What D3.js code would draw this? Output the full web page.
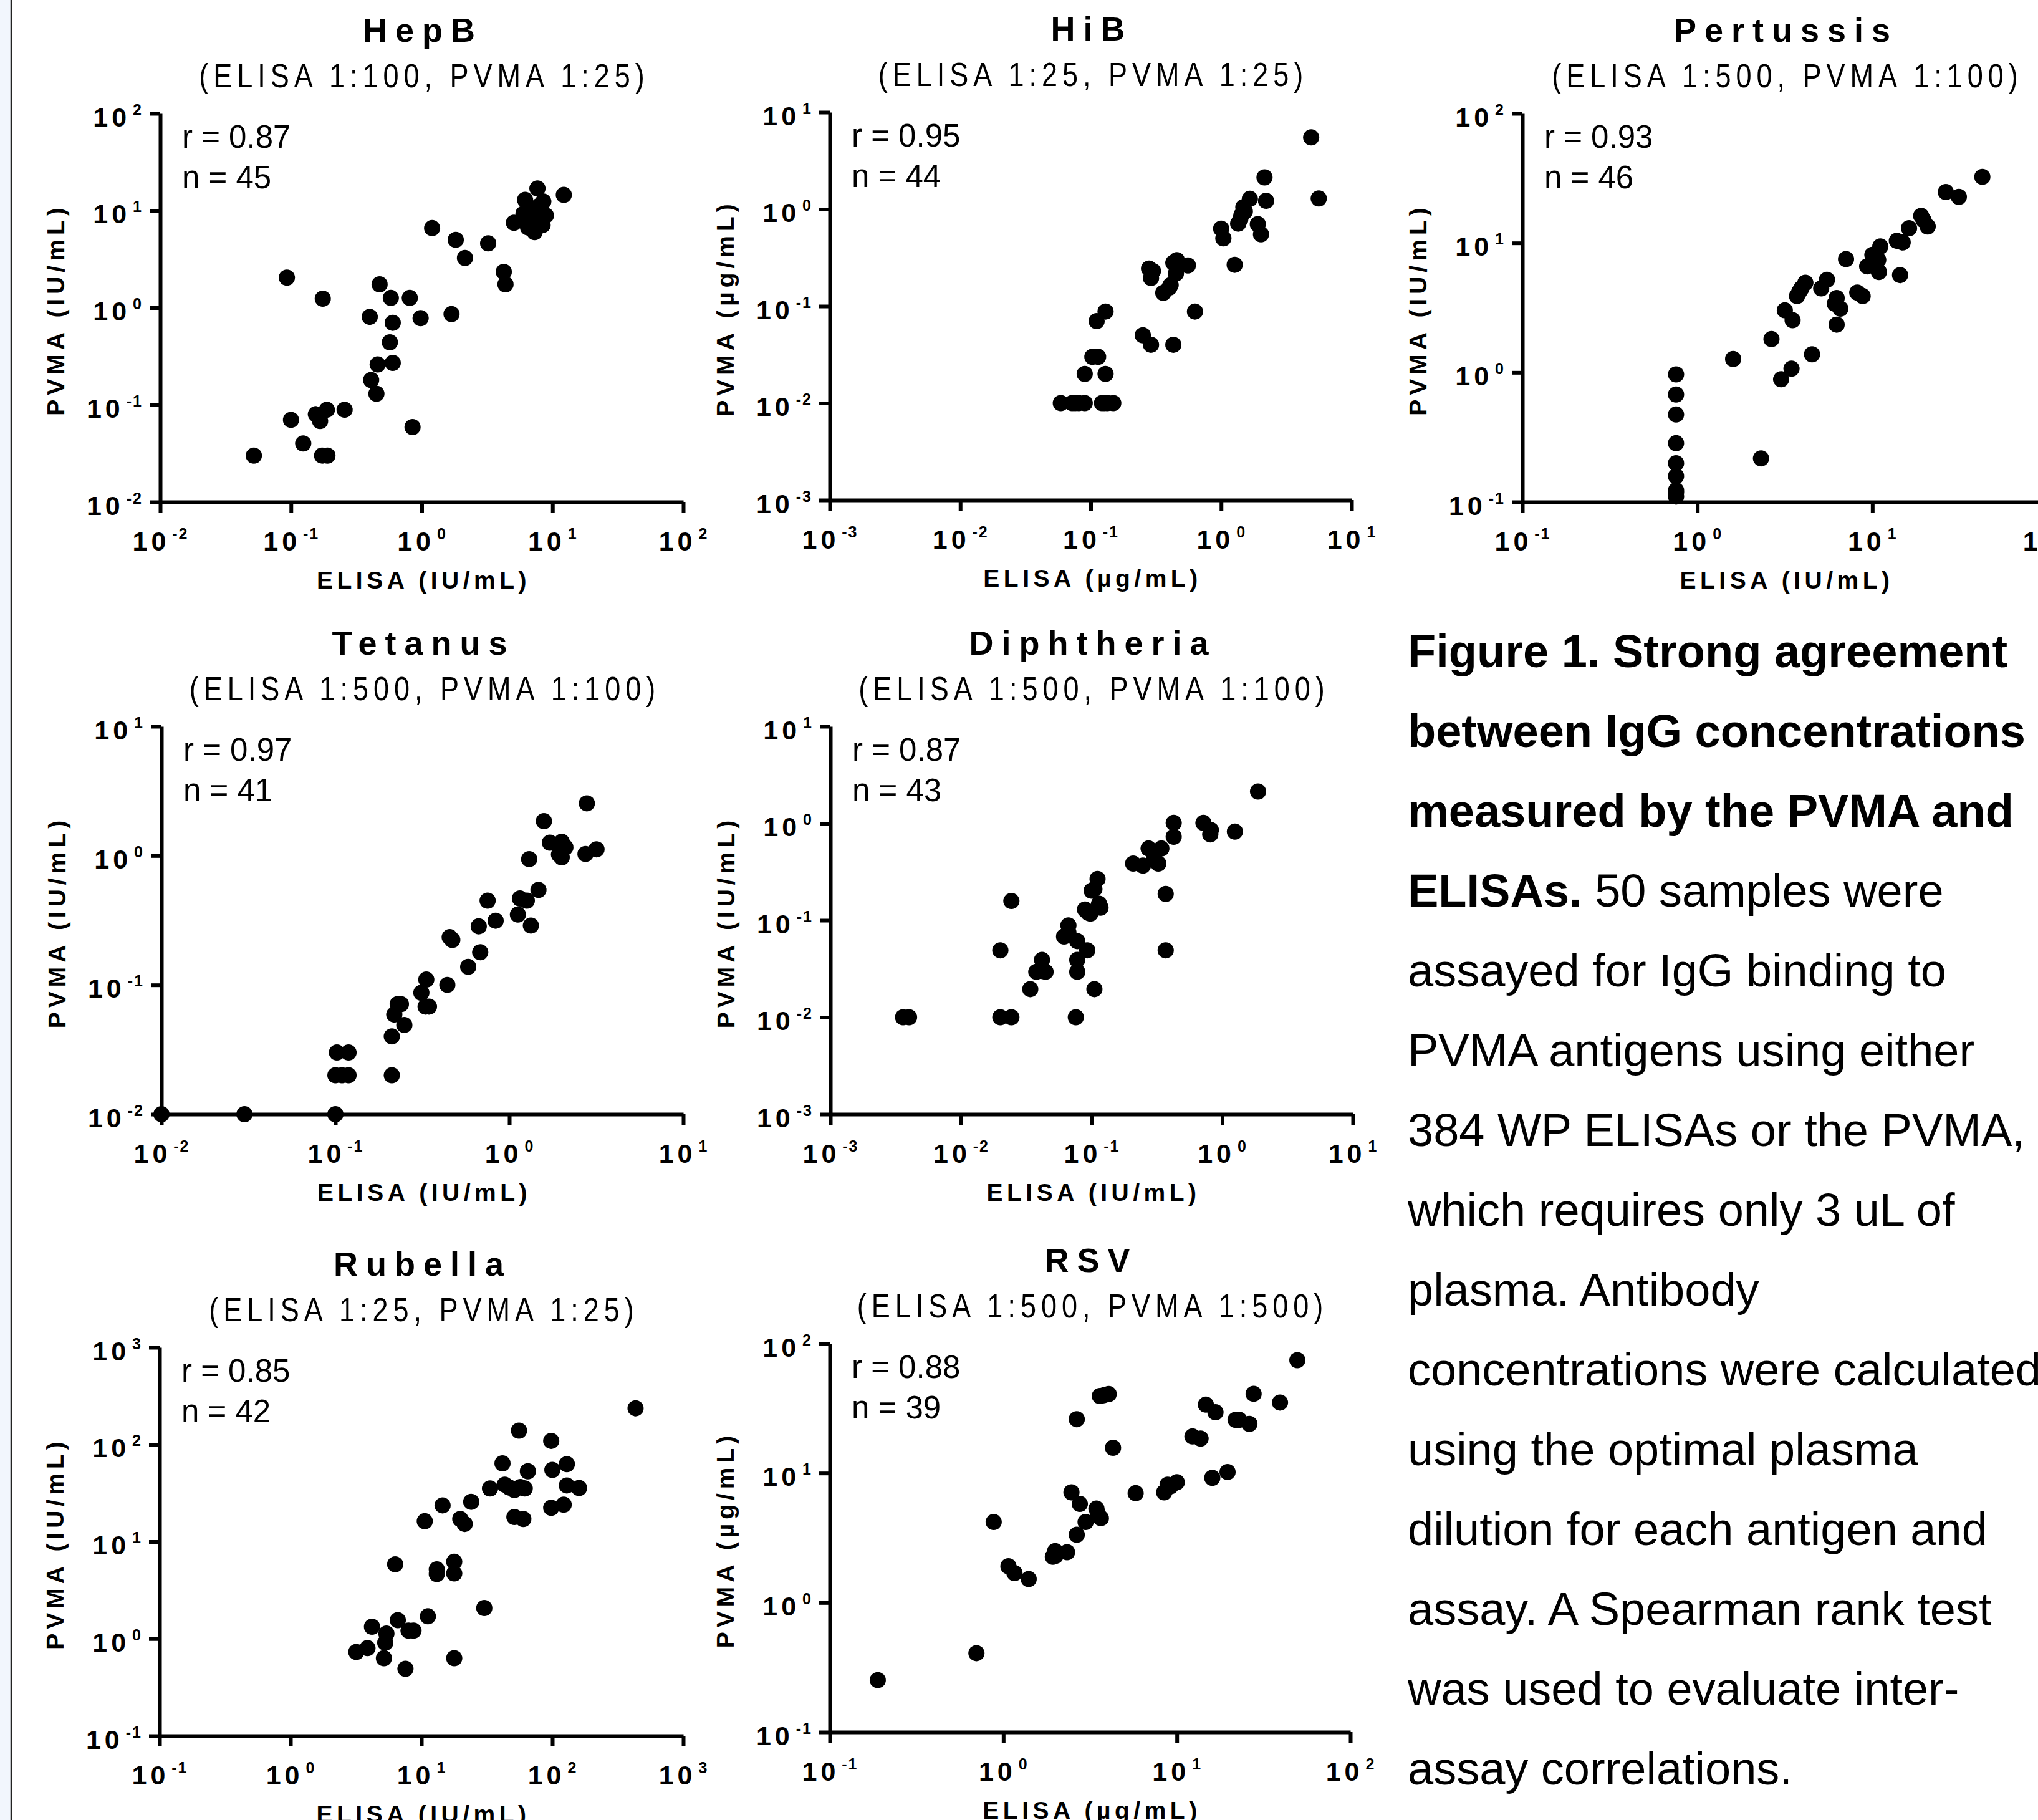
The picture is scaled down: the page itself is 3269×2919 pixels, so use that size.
<!DOCTYPE html>
<html>
<head>
<meta charset="utf-8">
<script src="https://cdn.jsdelivr.net/npm/d3@7"></script>
<style>
  body { margin: 0; background: #fff; }
  svg { display: block; font-family: "Liberation Sans", Arial, sans-serif; }
</style>
</head>
<body>
<div id="chart"></div>
<script>
// panel texts
const panelNames = ["HepB", "HiB", "Pertussis", "Tetanus", "Diphtheria", "Rubella", "RSV"];
const dilutions = [
  "(ELISA 1:100, PVMA 1:25)", "(ELISA 1:25, PVMA 1:25)", "(ELISA 1:500, PVMA 1:100)",
  "(ELISA 1:500, PVMA 1:100)", "(ELISA 1:500, PVMA 1:100)", "(ELISA 1:25, PVMA 1:25)",
  "(ELISA 1:500, PVMA 1:500)"
];
const rValues = ["0.87", "0.95", "0.93", "0.97", "0.87", "0.85", "0.88"];
const nValues = [45, 44, 46, 41, 43, 42, 39];
const units = ["IU/mL", "µg/mL", "IU/mL", "IU/mL", "IU/mL", "IU/mL", "µg/mL"];
const xExtents = [[1e-2, 1e2], [1e-3, 1e1], [1e-1, 1e2], [1e-2, 1e1], [1e-3, 1e1], [1e-1, 1e3], [1e-1, 1e2]];
const yExtents = [[1e-2, 1e2], [1e-3, 1e1], [1e-1, 1e2], [1e-2, 1e1], [1e-3, 1e1], [1e-1, 1e3], [1e-1, 1e2]];

// [ELISA, PVMA] pairs
const hepbPoints = [[0.052,0.030],[0.093,2.04],[0.175,1.24],[0.10,0.070],[0.124,0.040],[0.155,0.080],
  [0.167,0.068],[0.188,0.089],[0.173,0.030],[0.19,0.030],[0.257,0.089],[0.40,0.805],[0.476,1.74],
  [0.58,1.26],[0.81,1.26],[0.60,0.70],[0.57,0.44],[0.46,0.26],[0.60,0.27],[0.41,0.18],[0.45,0.13],
  [0.85,0.059],[0.98,0.78],[1.69,0.86],[1.20,6.6],[1.82,5.0],[2.14,3.25],[3.22,4.6],[4.24,2.34],
  [4.37,1.74],[5.07,7.5],[6.17,12.9],[7.67,16.9],[8.5,12.4],[6.0,9.3],[6.5,6.7],[7.3,6.0],[8.9,8.9],
  [8.4,7.1],[7.1,9.3],[12.2,14.5],[6.7,7.9],[7.9,11.2],[7.5,8.3],[6.6,10.2]];
const hibPoints = [[0.059,0.01],[0.072,0.01],[0.081,0.01],[0.090,0.01],[0.122,0.01],[0.135,0.01],
  [0.149,0.01],[0.076,0.01],[0.128,0.01],[0.090,0.020],[0.13,0.020],[0.103,0.030],[0.114,0.030],
  [0.111,0.070],[0.130,0.088],[0.251,0.050],[0.29,0.040],[0.43,0.040],[0.63,0.088],[0.28,0.244],
  [0.29,0.195],[0.36,0.137],[0.40,0.155],[0.41,0.165],[0.45,0.217],[0.457,0.298],[0.556,0.263],
  [0.30,0.23],[0.43,0.28],[1.0,0.63],[1.04,0.50],[1.27,0.267],[1.35,0.71],[1.43,0.87],[1.48,1.05],
  [1.66,1.28],[1.91,0.70],[2.02,0.55],[2.15,2.13],[2.21,1.22],[4.9,5.5],[5.6,1.29],[1.40,0.78],[1.52,0.95]];
const pertussisPoints = [[0.755,0.966],[0.755,0.675],[0.755,0.473],[0.755,0.284],[0.755,0.199],
  [0.755,0.158],[0.755,0.123],[0.755,0.110],[0.755,0.118],[1.6,1.27],[2.31,0.217],[2.65,1.81],
  [3.01,0.885],[3.45,1.07],[4.52,1.38],[3.16,3.02],[3.5,2.53],[3.71,3.89],[3.93,4.46],[4.14,4.93],
  [3.82,4.2],[5.1,4.46],[5.5,5.2],[6.25,3.76],[6.1,3.4],[6.56,3.11],[6.25,2.34],[7.07,7.5],[8.2,4.14],
  [8.8,3.89],[9.34,6.6],[10,8.1],[10.3,7.0],[10.9,5.97],[11.1,9.4],[10.8,7.4],[13.8,10.4],[14.9,10.1],
  [14.4,5.65],[16.2,13.0],[19.0,16.2],[19.6,15.0],[20.7,13.4],[26.3,24.7],[31.2,22.7],[42.5,32.4]];
const tetanusPoints = [[0.01,0.01],[0.030,0.01],[0.1,0.01],[0.1,0.02],[0.109,0.02],[0.119,0.02],
  [0.102,0.03],[0.119,0.03],[0.211,0.02],[0.211,0.040],[0.218,0.059],[0.238,0.071],[0.228,0.071],
  [0.249,0.049],[0.312,0.087],[0.333,0.11],[0.33,0.068],[0.345,0.068],[0.44,0.1],[0.454,0.234],
  [0.47,0.223],[0.58,0.138],[0.667,0.284],[0.68,0.179],[0.75,0.449],[0.834,0.314],[1.12,0.35],
  [1.15,0.466],[1.26,0.449],[1.33,0.288],[1.3,0.94],[1.47,0.543],[1.58,1.85],[1.71,1.26],[2.0,1.28],
  [1.93,1.02],[2.0,0.97],[2.1,1.16],[2.79,2.54],[2.74,1.03],[3.17,1.12]];
const diphtheriaPoints = [[0.0036,0.01],[0.0040,0.01],[0.020,0.01],[0.0243,0.01],[0.0757,0.01],
  [0.020,0.049],[0.0243,0.158],[0.0339,0.0195],[0.0377,0.0294],[0.0417,0.039],[0.0444,0.0294],
  [0.0415,0.03],[0.0615,0.068],[0.0664,0.0886],[0.0664,0.075],[0.0776,0.061],[0.0776,0.039],
  [0.0776,0.0294],[0.0925,0.049],[0.089,0.129],[0.0977,0.117],[0.094,0.12],[0.105,0.0195],[0.1,0.202],
  [0.105,0.21],[0.111,0.267],[0.114,0.148],[0.117,0.135],[0.208,0.385],[0.247,0.367],[0.273,0.55],
  [0.30,0.45],[0.324,0.385],[0.342,0.55],[0.369,0.187],[0.369,0.049],[0.425,1.01],[0.425,0.728],
  [0.718,1.01],[0.818,0.853],[0.81,0.77],[1.25,0.822],[1.88,2.13]];
const rubellaPoints = [[3.18,0.73],[3.87,0.80],[4.19,1.33],[5.17,0.63],[5.29,0.91],[5.4,1.13],
  [6.6,1.55],[7.55,0.49],[7.97,1.21],[8.7,1.21],[6.3,5.84],[11.2,1.70],[13.1,5.17],[13.1,4.64],
  [17.8,6.2],[17.8,4.7],[17.8,0.63],[30.2,2.07],[10.6,16.2],[14.5,23.6],[19.8,17.1],[21.4,15.2],
  [24.0,25.7],[33.4,35.3],[41.6,64],[43.3,38.6],[47,36],[51.3,34],[51.3,17.9],[55.6,139],[57,36.5],
  [61.5,35.3],[60,17.1],[65,53],[98,109],[100,54.7],[98,22.3],[122,24.0],[129,62.8],[129,37.9],
  [160,35.6],[432,236]];
const rsvPoints = [[0.189,0.252],[0.70,0.407],[0.88,4.19],[1.07,1.91],[1.16,1.69],[1.40,1.52],
  [1.93,2.26],[1.99,2.5],[2.0,2.3],[2.33,2.45],[2.47,7.1],[2.65,26.1],[2.65,3.34],[2.76,5.78],
  [2.98,4.19],[3.44,5.32],[3.5,4.9],[3.65,4.49],[3.6,39.4],[3.8,40.0],[4.05,40.8],[4.29,15.7],
  [5.79,7.0],[8.45,7.1],[8.85,8.14],[9.2,7.9],[10,8.5],[12.3,19.2],[13.7,18.5],[14.7,33.8],[16.7,29.5],
  [16.0,9.2],[19.6,10.2],[21.8,25.8],[22.9,25.8],[26.2,24.0],[27.7,41.0],[39.3,35.1],[49.5,74.5]];
const panelPoints = [hepbPoints, hibPoints, pertussisPoints, tetanusPoints, diphtheriaPoints, rubellaPoints, rsvPoints];

// caption, one entry per line: [bold part, regular part]
const captionLines = [
  ["Figure 1. Strong agreement", ""],
  ["between IgG concentrations", ""],
  ["measured by the PVMA and", ""],
  ["ELISAs.", " 50 samples were"],
  ["", "assayed for IgG binding to"],
  ["", "PVMA antigens using either"],
  ["", "384 WP ELISAs or the PVMA,"],
  ["", "which requires only 3 uL of"],
  ["", "plasma. Antibody"],
  ["", "concentrations were calculated"],
  ["", "using the optimal plasma"],
  ["", "dilution for each antigen and"],
  ["", "assay. A Spearman rank test"],
  ["", "was used to evaluate inter-"],
  ["", "assay correlations."]
];

const width = 3269, height = 2919;

// plot frame of each panel (axis pixel extents)
const frames = [
  { x0: 257, x1: 1096, y0: 182, y1: 805 },
  { x0: 1331, x1: 2168, y0: 180, y1: 802 },
  { x0: 2442, x1: 3284, y0: 182, y1: 805 },
  { x0: 259, x1: 1096, y0: 1165, y1: 1787 },
  { x0: 1332, x1: 2170, y0: 1165, y1: 1787 },
  { x0: 256, x1: 1096, y0: 2161, y1: 2784 },
  { x0: 1331, x1: 2166, y0: 2155, y1: 2778 }
];

const svg = d3.select("#chart")
  .append("svg")
  .attr("width", width)
  .attr("height", height);

svg.append("rect").attr("width", width).attr("height", height).attr("fill", "#fff");

// left page edge
svg.append("rect").attr("width", 17).attr("height", height).attr("fill", "#f2f6fd");
svg.append("line")
  .attr("x1", 18).attr("x2", 18).attr("y1", 0).attr("y2", height)
  .attr("stroke", "#222").attr("stroke-width", 2.5);

function decades(ext) {
  const lo = Math.round(Math.log10(ext[0])), hi = Math.round(Math.log10(ext[1]));
  return d3.range(lo, hi + 1).map(e => Math.pow(10, e));
}

function powerLabel(textSel, d) {
  const e = Math.round(Math.log10(d));
  textSel.text(null);
  textSel.append("tspan").attr("letter-spacing", 6).text("10");
  textSel.append("tspan")
    .attr("font-size", 25)
    .attr("dx", 4)
    .attr("dy", -18)
    .attr("letter-spacing", 2)
    .text(String(e));
}

function styleAxis(g) {
  g.select(".domain").attr("stroke", "#000").attr("stroke-width", 6);
  g.selectAll(".tick line").attr("stroke", "#000").attr("stroke-width", 6);
  g.selectAll(".tick text")
    .attr("fill", "#000")
    .attr("font-size", 43)
    .attr("font-weight", "bold")
    .attr("font-family", "'Liberation Sans', Arial, sans-serif");
}

panelNames.forEach((name, i) => {
  const f = frames[i];
  const x = d3.scaleLog().domain(xExtents[i]).range([f.x0, f.x1]);
  const y = d3.scaleLog().domain(yExtents[i]).range([f.y1, f.y0]);
  const cx = (f.x0 + f.x1) / 2;
  const cy = (f.y0 + f.y1) / 2;
  const g = svg.append("g").attr("class", "panel");

  // titles
  g.append("text")
    .attr("x", cx + 2).attr("y", f.y0 - 115)
    .attr("text-anchor", "middle")
    .attr("font-size", 54).attr("font-weight", "bold")
    .attr("letter-spacing", 13)
    .text(name);
  // subtitle: a horizontally condensed face with wide tracking
  g.append("text")
    .attr("transform", `translate(${cx + 4},${f.y0 - 42}) scale(0.85,1)`)
    .attr("text-anchor", "middle")
    .attr("font-size", 53)
    .attr("letter-spacing", 9.4)
    .text(dilutions[i]);

  // axes
  const xAxis = g.append("g")
    .attr("transform", `translate(0,${f.y1})`)
    .call(d3.axisBottom(x).tickValues(decades(xExtents[i])).tickSize(17).tickSizeOuter(0));
  styleAxis(xAxis);
  xAxis.selectAll(".tick text")
    .attr("y", 78).attr("dy", null)
    .attr("text-anchor", "middle")
    .each(function(d) { powerLabel(d3.select(this), d); });

  const yAxis = g.append("g")
    .attr("transform", `translate(${f.x0},0)`)
    .call(d3.axisLeft(y).tickValues(decades(yExtents[i])).tickSize(17).tickSizeOuter(0));
  styleAxis(yAxis);
  yAxis.selectAll(".tick text")
    .attr("x", -28).attr("y", 20).attr("dy", null)
    .attr("text-anchor", "end")
    .each(function(d) { powerLabel(d3.select(this), d); });

  // axis titles
  g.append("text")
    .attr("x", cx + 3).attr("y", f.y1 + 139)
    .attr("text-anchor", "middle")
    .attr("font-size", 39).attr("font-weight", "bold")
    .attr("letter-spacing", 6.5)
    .text(`ELISA (${units[i]})`);
  g.append("text")
    .attr("transform", `translate(${f.x0 - 154},${cy + 3}) rotate(-90)`)
    .attr("text-anchor", "middle")
    .attr("font-size", 39).attr("font-weight", "bold")
    .attr("letter-spacing", 7)
    .text(`PVMA (${units[i]})`);

  // r / n
  g.append("text")
    .attr("x", f.x0 + 35).attr("y", f.y0 + 55)
    .attr("font-size", 51)
    .text(`r = ${rValues[i]}`);
  g.append("text")
    .attr("x", f.x0 + 35).attr("y", f.y0 + 120)
    .attr("font-size", 51)
    .text(`n = ${nValues[i]}`);

  // points
  g.append("g")
    .selectAll("circle")
    .data(panelPoints[i])
    .join("circle")
    .attr("cx", d => x(d[0]))
    .attr("cy", d => y(d[1]))
    .attr("r", 13)
    .attr("fill", "#000");
});

// caption
const caption = svg.append("g").attr("font-size", 74).attr("fill", "#000");
captionLines.forEach((line, i) => {
  const t = caption.append("text")
    .attr("x", 2258)
    .attr("y", 1070 + i * 128);
  if (line[0]) t.append("tspan").attr("font-weight", "bold").text(line[0]);
  if (line[1]) t.append("tspan").style("white-space", "pre").text(line[1]);
});
</script>
</body>
</html>
